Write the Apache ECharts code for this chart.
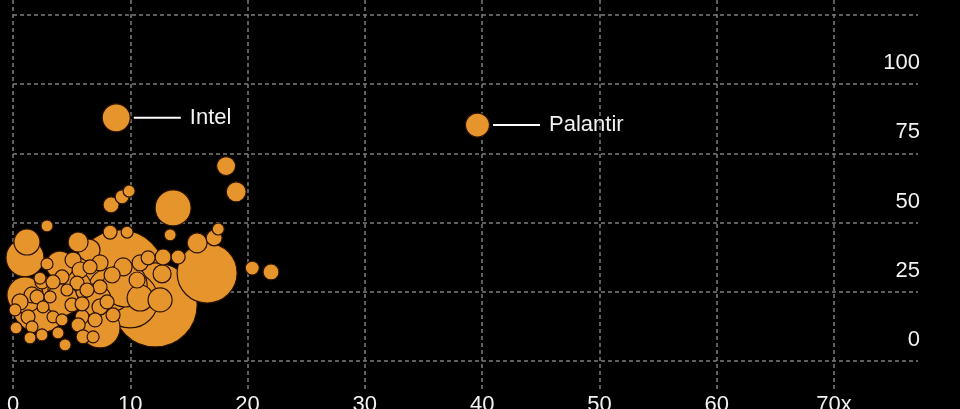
<!DOCTYPE html>
<html>
<head>
<meta charset="utf-8">
<style>
  html, body { margin: 0; padding: 0; background: #000; }
  #chart { width: 960px; height: 409px; }
</style>
<script src="https://cdn.jsdelivr.net/npm/echarts@6/dist/echarts.min.js"></script>
</head>
<body>
<div id="chart"></div>
<script>
// Company labels (only annotated ones named)
const names = ['Intel', 'Palantir'];

// x: valuation multiple, y: growth / metric, marketCap: bubble size value
const xValues = [
  8.8, 39.6,
  9.13, 12.12, 16.55, 9.98, 13.65, 7.42, 1.02, 1.02, 4.18, 8.28, 4.0, 2.3, 4.86, 9.56, 7.0,
  18.17, 19.03, 9.9, 9.3, 8.36, 20.4, 22.0, 2.9,
  17.5, 17.15, 15.7, 13.4, 14.08, 12.8, 11.52, 10.84, 12.71, 10.58, 10.84, 12.54, 9.39, 8.45, 8.28, 9.73,
  1.19, 5.55, 6.48, 5.12, 2.9, 7.42, 7.42, 4.18, 2.47, 3.41, 4.6, 5.97, 3.16, 1.62, 0.6, 5.03, 2.56, 3.41, 1.28, 5.89, 8.53,
  7.42, 8.02, 0.26, 1.62, 2.47, 3.84, 5.55, 5.97, 1.45, 5.89, 5.72, 6.57, 5.46, 6.31, 2.05, 4.18, 2.3, 6.83, 4.44, 0.17, 7.0
];
const yValues = [
  87.7, 85.1,
  31.0, 20.2, 31.7, 22.0, 55.2, 11.9, 37.2, 23.8, 22.0, 25.6, 34.6, 20.2, 25.6, 27.4, 22.0,
  70.3, 61.0, 61.3, 59.2, 56.3, 33.5, 32.1, 48.7,
  47.6, 44.4, 42.6, 45.5, 37.5, 37.5, 37.2, 35.4, 31.4, 29.2, 22.7, 22.0, 33.9, 31.0, 46.5, 46.5,
  42.9, 42.9, 40.0, 36.4, 35.0, 35.4, 26.7, 30.3, 28.5, 28.5, 25.6, 24.9, 23.1, 23.8, 21.3, 20.2, 19.5, 15.9, 15.9, 15.9, 16.6,
  19.5, 21.3, 11.9, 12.3, 9.4, 10.1, 13.0, 8.7, 8.3, 20.6, 32.8, 33.9, 28.1, 25.6, 23.1, 14.8, 29.9, 8.7, 5.8, 18.4, 14.8
];
const marketCap = [
  196, 144,
  2025, 1764, 900, 784, 324, 400, 361, 324, 256, 484, 196, 784, 484, 484, 256,
  90, 100, 36, 49, 64, 49, 64, 36,
  36, 64, 100, 36, 49, 64, 49, 64, 81, 64, 169, 144, 81, 64, 49, 36,
  169, 100, 121, 64, 36, 64, 49, 49, 49, 49, 36, 49, 36, 64, 64, 49, 36, 36, 49, 49, 49,
  64, 49, 36, 36, 36, 36, 49, 49, 36, 49, 64, 49, 49, 49, 49, 36, 36, 36, 36, 36, 49
];

// x-axis ticks and y-axis ticks
const xTicks = [0, 10, 20, 30, 40, 50, 60, 70];
const yTicks = [0, 25, 50, 75, 100, 125];

const ORANGE = '#E6952D';
const TEXT = '#f2f2f2';
const GRID = '#7d7d7d';

const order = xValues.map((_, i) => i).sort((a, b) => marketCap[b] - marketCap[a]);
const points = order.map(i => {
  const item = { value: [xValues[i], yValues[i], marketCap[i]], name: names[i] || '' };
  if (names[i]) {
    item.label = {
      show: true,
      position: 'right',
      distance: 3,
      formatter: '{ln|}{nm|' + names[i] + '}',
      rich: {
        ln: { width: 47, height: 2, backgroundColor: '#ffffff', verticalAlign: 'middle' },
        nm: { fontSize: 22, color: TEXT, fontFamily: 'Liberation Sans', padding: [0, 0, 0, 9], verticalAlign: 'middle' }
      }
    };
  }
  return item;
});

const chart = echarts.init(document.getElementById('chart'), null, { renderer: 'canvas' });
chart.setOption({
  backgroundColor: '#000',
  animation: false,
  grid: [
    { left: 13, right: 42, top: 15, bottom: 48, containLabel: false, outerBoundsMode: 'none' },
    { left: 13, right: 126, top: 0, bottom: 17, containLabel: false, outerBoundsMode: 'none' }
  ],
  xAxis: [
    { gridIndex: 0, type: 'value', min: 0, max: 1, show: false },
    {
      gridIndex: 1, type: 'value', min: xTicks[0], max: xTicks[xTicks.length - 1], interval: 10,
      axisLine: { show: false }, axisTick: { show: false },
      axisLabel: {
        color: TEXT, fontSize: 22, fontFamily: 'Liberation Sans', margin: 2,
        formatter: v => (v === xTicks[xTicks.length - 1] ? v + 'x' : String(v))
      },
      splitLine: { show: true, lineStyle: { color: GRID, type: [4, 3], width: 1.5 } }
    }
  ],
  yAxis: [
    {
      gridIndex: 0, type: 'value', position: 'right', min: yTicks[0], max: yTicks[yTicks.length - 1], interval: 25,
      axisLine: { show: false }, axisTick: { show: false },
      axisLabel: {
        inside: true, margin: -2, color: TEXT, fontSize: 22, fontFamily: 'Liberation Sans',
        verticalAlign: 'bottom', padding: [0, 0, 10, 0]
      },
      splitLine: { show: true, lineStyle: { color: GRID, type: [4, 3], width: 1.5 } }
    },
    { gridIndex: 1, type: 'value', min: -11.2, max: 130.2, show: false }
  ],
  series: [{
    type: 'scatter',
    xAxisIndex: 1, yAxisIndex: 1,
    data: points,
    symbolSize: v => 2 * Math.sqrt(v[2]),
    itemStyle: { color: ORANGE, borderColor: '#2b1204', borderWidth: 1.2, opacity: 1 },
    emphasis: { disabled: true },
    z: 5
  }]
});
</script>
</body>
</html>
